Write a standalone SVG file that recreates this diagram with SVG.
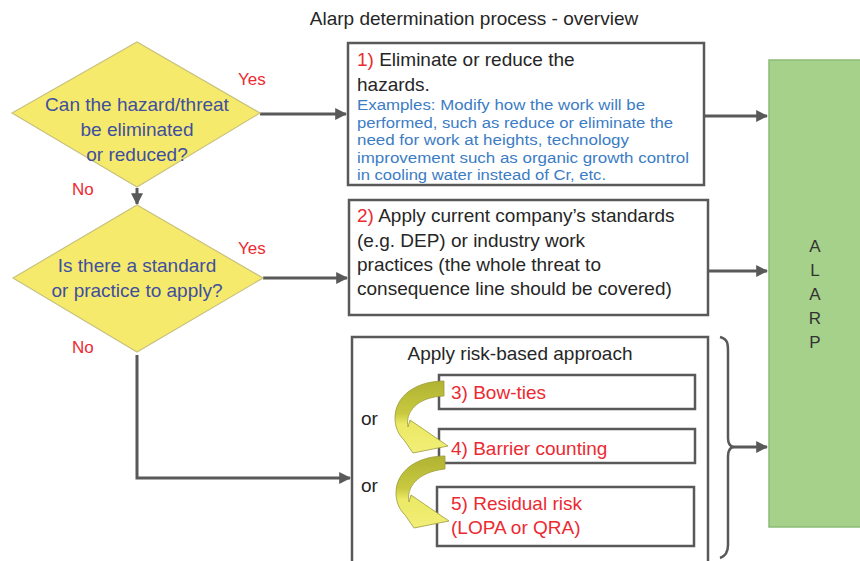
<svg xmlns="http://www.w3.org/2000/svg" width="860" height="561" viewBox="0 0 860 561">
<style>
text{font-family:"Liberation Sans","Noto Sans",Arial,sans-serif;}
.box{fill:#fff;stroke:#595959;stroke-width:2.5;}
.dia{fill:#f6ea6c;stroke:#c9c27e;stroke-width:1.2;}
.q{fill:#3f4f9f;font-size:19px;text-anchor:middle;}
.red{fill:#ec2a32;}
.lab{fill:#ec2a32;font-size:17px;}
.step{fill:#ec2a32;font-size:19px;}
.main{fill:#262626;font-size:19px;}
.ex{fill:#3b7cc4;font-size:15.5px;}
.con{fill:none;stroke:#595959;stroke-width:3;}
.curl{stroke:#9c9a3a;stroke-width:0.8;fill:url(#g);}
</style>
<defs>
<marker id="ah" viewBox="0 0 10 10" refX="9" refY="5" markerWidth="4" markerHeight="4" orient="auto" markerUnits="strokeWidth">
<path d="M0,0 L10,5 L0,10 z" fill="#595959"/>
</marker>
<linearGradient id="g" x1="0" y1="0" x2="0" y2="1">
<stop offset="0" stop-color="#b0b332"/>
<stop offset="0.45" stop-color="#c9c940"/>
<stop offset="0.6" stop-color="#ebe965"/>
<stop offset="1" stop-color="#f2ee78"/>
</linearGradient>
</defs>

<text x="474" y="25" font-size="19" fill="#262626" text-anchor="middle">Alarp determination process - overview</text>

<g id="connectors">
<path class="con" d="M260,114 H346" marker-end="url(#ah)"/>
<path class="con" d="M137,188 V204" marker-end="url(#ah)"/>
<path class="con" d="M263,278 H347" marker-end="url(#ah)"/>
<path class="con" d="M137,355 V478 H350" marker-end="url(#ah)"/>
<path class="con" d="M705,116 H767" marker-end="url(#ah)"/>
<path class="con" d="M709,271 H767" marker-end="url(#ah)"/>
<path class="con" d="M733,447 H767" marker-end="url(#ah)"/>
</g>

<g id="alarp">
<rect x="769" y="60" width="95" height="467" fill="#a5d18a" stroke="#8dbb75" stroke-width="1.5"/>
<g font-size="17" fill="#333" text-anchor="middle">
<text x="815" y="252">A</text>
<text x="815" y="276">L</text>
<text x="815" y="300">A</text>
<text x="815" y="324">R</text>
<text x="815" y="348">P</text>
</g>
</g>

<g id="q1">
<polygon class="dia" points="12,113 137,42 260,113 137,187"/>
<text class="q" x="137" y="111">Can the hazard/threat</text>
<text class="q" x="137" y="136">be eliminated</text>
<text class="q" x="137" y="161">or reduced?</text>
<text class="lab" x="238" y="85">Yes</text>
<text class="lab" x="72" y="195">No</text>
</g>

<g id="q2">
<polygon class="dia" points="13,278 137,205 263,278 137,352"/>
<text class="q" x="137" y="272">Is there a standard</text>
<text class="q" x="137" y="297">or practice to apply?</text>
<text class="lab" x="238" y="254">Yes</text>
<text class="lab" x="72" y="353">No</text>
</g>

<g id="step1">
<rect class="box" x="348" y="43" width="356" height="142"/>
<text class="main" x="357" y="66"><tspan class="red">1)</tspan> Eliminate or reduce the</text>
<text class="main" x="357" y="91">hazards.</text>
<text class="ex" x="357" y="110" textLength="288" lengthAdjust="spacingAndGlyphs">Examples: Modify how the work will be</text>
<text class="ex" x="357" y="128" textLength="316" lengthAdjust="spacingAndGlyphs">performed, such as reduce or eliminate the</text>
<text class="ex" x="357" y="145" textLength="272" lengthAdjust="spacingAndGlyphs">need for work at heights, technology</text>
<text class="ex" x="357" y="163" textLength="332" lengthAdjust="spacingAndGlyphs">improvement such as organic growth control</text>
<text class="ex" x="357" y="180" textLength="249" lengthAdjust="spacingAndGlyphs">in cooling water instead of Cr, etc.</text>
</g>

<g id="step2">
<rect class="box" x="349" y="200" width="359" height="115"/>
<text class="main" x="357" y="222"><tspan class="red">2)</tspan> Apply current company’s standards</text>
<text class="main" x="357" y="247">(e.g. DEP) or industry work</text>
<text class="main" x="357" y="271">practices (the whole threat to</text>
<text class="main" x="357" y="295">consequence line should be covered)</text>
</g>

<g id="risk">
<rect class="box" x="352" y="337" width="356" height="240"/>
<text class="main" x="520" y="360" text-anchor="middle">Apply risk-based approach</text>
<text class="main" x="361" y="425">or</text>
<text class="main" x="361" y="492">or</text>
<path d="M720,337 C728,339 728,344 728,352 V438 C728,444 730,446 733,447 C730,448 728,450 728,456 V545 C728,552 726,556 720,558" fill="none" stroke="#595959" stroke-width="2.5"/>
</g>

<g id="step3">
<rect class="box" x="439" y="375" width="256" height="34"/>
<text class="step" x="451" y="399">3) Bow-ties</text>
</g>
<g id="step4">
<rect class="box" x="439" y="429" width="256" height="34"/>
<text class="step" x="451" y="455">4) Barrier counting</text>
</g>
<g id="step5">
<rect class="box" x="437" y="487" width="257" height="59"/>
<text class="step" x="451" y="510">5) Residual risk</text>
<text class="step" x="451" y="534">(LOPA or QRA)</text>
</g>

<g id="curls">
<path class="curl" d="M444,381 C416,381 395,396 395,418 C395,428 399,435 404,440 L413,453 L448,446 L410,420 L408,427 C405,413 416,397 444,396 Z"/>
<path class="curl" transform="translate(1,75)" d="M444,381 C416,381 395,396 395,418 C395,428 399,435 404,440 L413,453 L448,446 L410,420 L408,427 C405,413 416,397 444,394 Z"/>
</g>
</svg>
